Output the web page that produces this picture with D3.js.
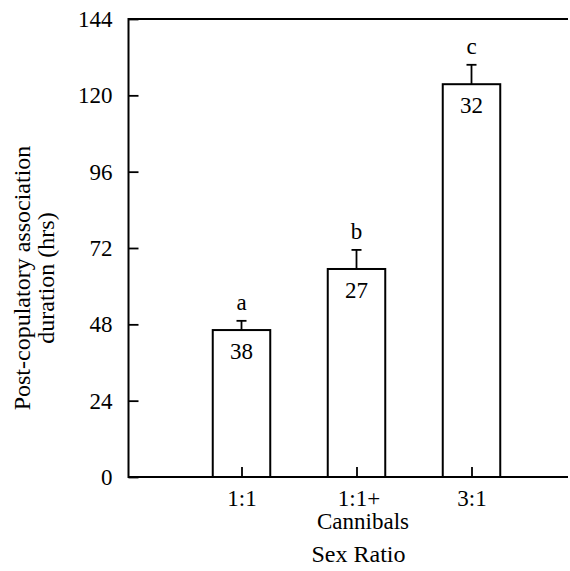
<!DOCTYPE html>
<html>
<head>
<meta charset="utf-8">
<script src="https://cdn.jsdelivr.net/npm/d3@7"></script>
<style>
  html, body { margin: 0; padding: 0; background: #fff; }
  svg { display: block; }
  text { font-family: "Liberation Serif", "Times New Roman", serif; fill: #000; }
</style>
</head>
<body>
<svg id="chart" width="570" height="571"></svg>
<script>
// ---- data ----
const categories = ["1:1", "1:1+", "3:1"];
const categorySubLabels = ["", "Cannibals", ""];
const categoryPositions = [1, 2, 3];
const meanDuration = [46.2, 65.4, 123.5];
const standardError = [2.9, 6.0, 6.1];
const sampleSizes = [38, 27, 32];
const significanceLetters = ["a", "b", "c"];
const yTicks = [0, 24, 48, 72, 96, 120, 144];
const yTitleLines = ["Post-copulatory association", "duration (hrs)"];
const xTitle = "Sex Ratio";

// ---- layout ----
const plotLeft = 128.5, plotRight = 568, plotTop = 19, plotBottom = 477;
const FS = "23px";
const svg = d3.select("#chart");

const y = d3.scaleLinear().domain([0, 144]).range([plotBottom, plotTop]);
const x = d3.scaleLinear().domain([0, 4]).range([126.5, 586.5]);
const barW = x(0.5) - x(0);

const data = categories.map((c, i) => ({
  cat: c, sub: categorySubLabels[i], pos: categoryPositions[i],
  mean: meanDuration[i], se: standardError[i], n: sampleSizes[i], letter: significanceLetters[i]
}));

// bars
const g = svg.append("g");
g.selectAll("rect.bar").data(data).enter().append("rect")
  .attr("class", "bar")
  .attr("x", d => x(d.pos) - barW / 2)
  .attr("y", d => y(d.mean))
  .attr("width", barW)
  .attr("height", d => y(0) - y(d.mean))
  .attr("fill", "#fff")
  .attr("stroke", "#000")
  .attr("stroke-width", 2);

// error bars
g.selectAll("line.err").data(data).enter().append("line")
  .attr("x1", d => x(d.pos)).attr("x2", d => x(d.pos))
  .attr("y1", d => y(d.mean)).attr("y2", d => y(d.mean + d.se))
  .attr("stroke", "#000").attr("stroke-width", 1.8);
g.selectAll("line.cap").data(data).enter().append("line")
  .attr("x1", d => x(d.pos) - 5).attr("x2", d => x(d.pos) + 5)
  .attr("y1", d => y(d.mean + d.se)).attr("y2", d => y(d.mean + d.se))
  .attr("stroke", "#000").attr("stroke-width", 1.8);

// sample size labels
g.selectAll("text.n").data(data).enter().append("text")
  .attr("x", d => x(d.pos))
  .attr("y", d => y(d.mean) + 29)
  .attr("text-anchor", "middle")
  .style("font-size", FS)
  .text(d => d.n);

// significance letters
g.selectAll("text.sig").data(data).enter().append("text")
  .attr("x", d => x(d.pos))
  .attr("y", d => y(d.mean + d.se) - 11)
  .attr("text-anchor", "middle")
  .style("font-size", FS)
  .text(d => d.letter);

// y axis
const yAxis = d3.axisLeft(y).tickValues(yTicks).tickSizeInner(-10).tickSizeOuter(0).tickPadding(16);
const yg = svg.append("g").attr("transform", `translate(${plotLeft},0)`).call(yAxis);
yg.select(".domain").remove();
yg.selectAll(".tick line").attr("stroke", "#000").attr("stroke-width", 1.8);
yg.selectAll(".tick text").style("font-size", FS).attr("font-family", "Liberation Serif").attr("fill", "#000");

// x axis
const xAxis = d3.axisBottom(x).tickValues(categoryPositions).tickSizeInner(-10).tickSizeOuter(0).tickPadding(14)
  .tickFormat((d, i) => categories[i]);
const xg = svg.append("g").attr("transform", `translate(0,${plotBottom})`).call(xAxis);
xg.select(".domain").remove();
xg.selectAll(".tick line").attr("stroke", "#000").attr("stroke-width", 1.8);
xg.selectAll(".tick text").style("font-size", FS).attr("font-family", "Liberation Serif").attr("fill", "#000")
  .attr("dy", null).attr("y", 29);
xg.selectAll(".tick text").each(function(d, i) {
  if (categorySubLabels[i]) {
    const t = d3.select(this);
    const main = t.text();
    t.text(null);
    t.append("tspan").attr("x", 2).attr("y", 29).text(main);
    t.append("tspan").attr("x", 6).attr("y", 52).text(categorySubLabels[i]);
  }
});

// frame lines: left, top, bottom (no right)
svg.append("path")
  .attr("d", `M${plotRight},${plotTop}H${plotLeft}V${plotBottom}H${plotRight}`)
  .attr("fill", "none").attr("stroke", "#000").attr("stroke-width", 2);

// axis titles
svg.append("text")
  .attr("x", x(2) + 2).attr("y", 562)
  .attr("text-anchor", "middle")
  .style("font-size", "24px")
  .text(xTitle);

const yt = svg.append("text")
  .attr("transform", `translate(0,${278}) rotate(-90)`)
  .attr("text-anchor", "middle")
  .style("font-size", "24px");
yTitleLines.forEach((t, i) => {
  yt.append("tspan").attr("x", 0).attr("y", 30 + i * 24).text(t);
});
</script>
</body>
</html>
